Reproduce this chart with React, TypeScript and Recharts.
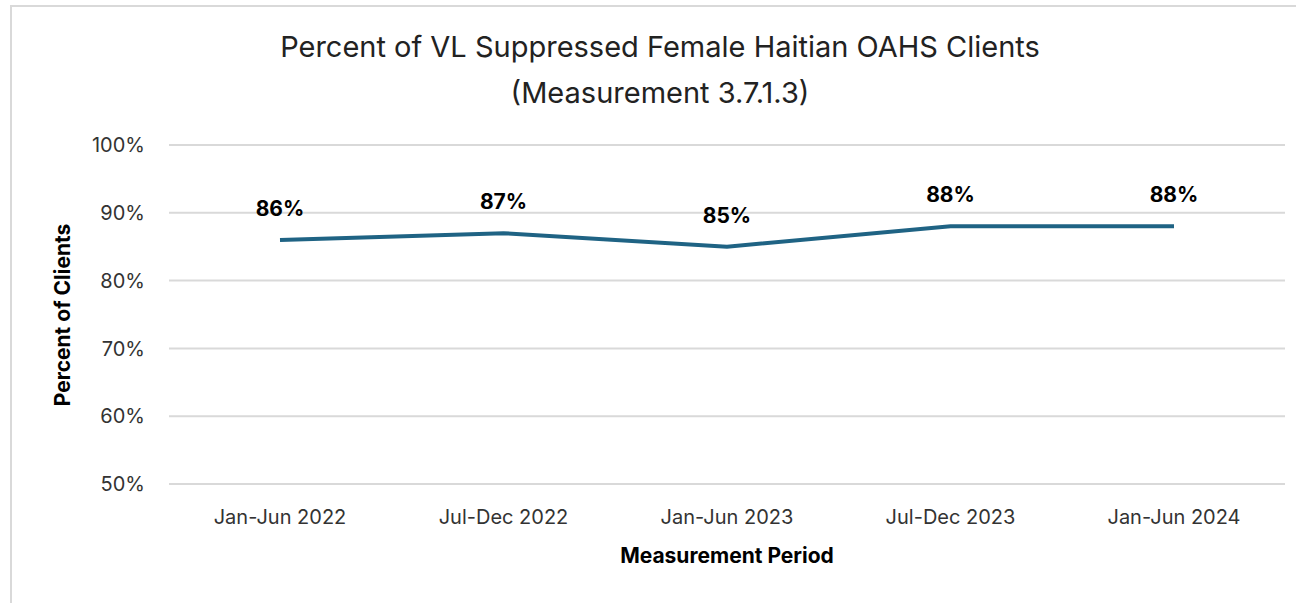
import { LineChart, Line, XAxis, YAxis, CartesianGrid, LabelList } from 'recharts'

const PERIODS = ['Jan-Jun 2022', 'Jul-Dec 2022', 'Jan-Jun 2023', 'Jul-Dec 2023', 'Jan-Jun 2024']
const SUPPRESSED = [86, 87, 85, 88, 88]
const Y_TICKS = [50, 60, 70, 80, 90, 100]

const data = PERIODS.map((period, i) => ({ period, value: SUPPRESSED[i] }))

const FONT = 'Inter, "Open Sans", sans-serif'

export default function App() {
  return (
    <div style={{ position: 'absolute', left: 0, top: 0, width: 1296, height: 603, background: '#fff', overflow: 'hidden', fontFamily: FONT }}>
      <div style={{ position: 'absolute', left: 10, top: 5, width: 1400, height: 700, border: '2px solid #d9d9d9' }} />
      <div style={{ position: 'absolute', left: 0, top: 24, width: 1320, textAlign: 'center', fontSize: 29, lineHeight: '46px', color: '#222' }}>
        Percent of VL Suppressed Female Haitian OAHS Clients
        <br />
        (Measurement 3.7.1.3)
      </div>
      <LineChart
        width={1296}
        height={603}
        data={data}
        margin={{ top: 145, right: 11, bottom: 89, left: 0 }}
        style={{ position: 'absolute', left: 0, top: 0 }}
      >
        <CartesianGrid vertical={false} stroke="#d9d9d9" strokeWidth={2} />
        <XAxis
          dataKey="period"
          height={30}
          padding={{ left: 111, right: 111 }}
          axisLine={false}
          tickLine={false}
          tick={{ fill: '#333', fontSize: 20, fontFamily: FONT }}
          dy={18}
        />
        <YAxis
          width={169}
          domain={[50, 100]}
          ticks={Y_TICKS}
          axisLine={false}
          tickLine={false}
          tickFormatter={(v: number) => `${v}%`}
          tick={{ fill: '#333', fontSize: 20, fontFamily: FONT }}
          tickMargin={18}
        />
        <Line
          dataKey="value"
          stroke="#1f6384"
          strokeWidth={4}
          dot={false}
          isAnimationActive={false}
        >
          <LabelList
            dataKey="value"
            position="top"
            offset={24}
            formatter={(v: number) => `${v}%`}
            style={{ fill: '#000', fontSize: 21, fontWeight: 700, fontFamily: FONT }}
          />
        </Line>
      </LineChart>
      <div style={{ position: 'absolute', left: 169, top: 543, width: 1116, textAlign: 'center', fontSize: 21, fontWeight: 700, color: '#000' }}>
        Measurement Period
      </div>
      <div
        style={{
          position: 'absolute',
          left: 62,
          top: 315,
          transform: 'translate(-50%, -50%) rotate(-90deg)',
          whiteSpace: 'nowrap',
          fontSize: 21,
          fontWeight: 700,
          color: '#000',
        }}
      >
        Percent of Clients
      </div>
    </div>
  )
}
